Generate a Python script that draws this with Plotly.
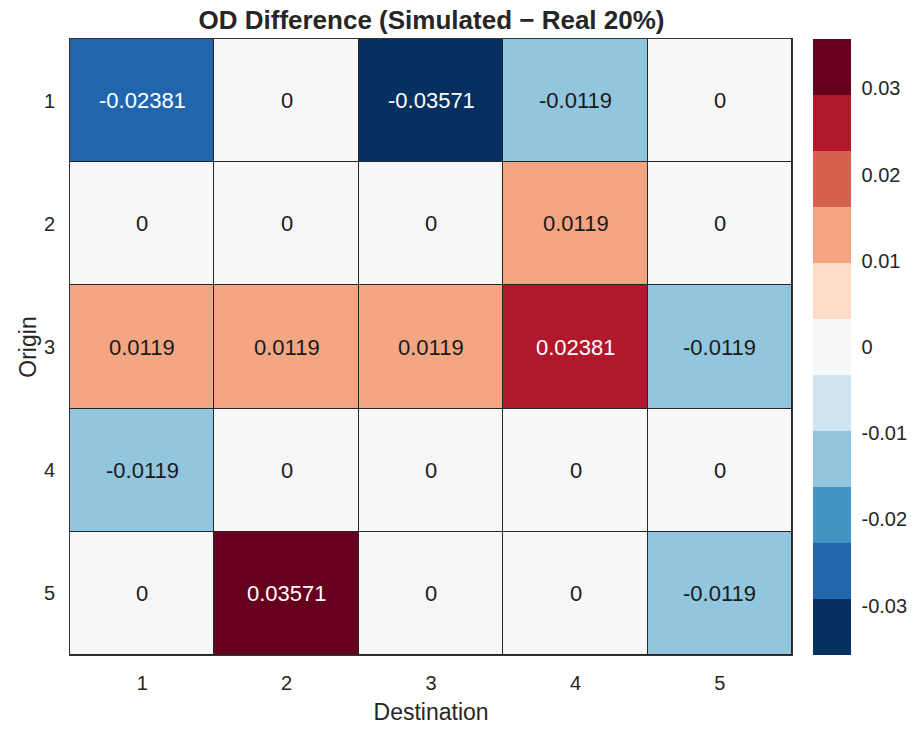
import plotly.graph_objects as go

origins = [1, 2, 3, 4, 5]
destinations = [1, 2, 3, 4, 5]
od_diff = [
    [-0.02381, 0, -0.03571, -0.0119, 0],
    [0, 0, 0, 0.0119, 0],
    [0.0119, 0.0119, 0.0119, 0.02381, -0.0119],
    [-0.0119, 0, 0, 0, 0],
    [0, 0.03571, 0, 0, -0.0119],
]
cb_ticks = [-0.03, -0.02, -0.01, 0, 0.01, 0.02, 0.03]
band_colors = ["#053061", "#2166ac", "#4393c3", "#92c5de", "#d1e5f0", "#f7f7f7",
               "#fddbc7", "#f4a582", "#d6604d", "#b2182b", "#67001f"]
zlim = 0.035714

FONT = "Liberation Sans, Arial, sans-serif"
TXT = "#262626"
L, R, T, B = 70, 793, 39, 655
W, H = 913, 734
MR = 6
PW = W - L - MR

n = len(band_colors)
colorscale = []
for i, c in enumerate(band_colors):
    colorscale.append([i / n, c])
    colorscale.append([(i + 1) / n, c])

fig = go.Figure(go.Heatmap(
    z=od_diff, x=destinations, y=origins,
    colorscale=colorscale, zmin=-zlim, zmax=zlim,
    xgap=1, ygap=1,
    colorbar=dict(
        x=(813 - L) / PW, xanchor="left", xpad=0,
        y=0, yanchor="bottom", len=1, lenmode="fraction", ypad=0,
        thickness=38, outlinewidth=0,
        tickvals=cb_ticks, ticktext=[f"{v:g}" for v in cb_ticks],
        ticks="outside", ticklen=7, tickcolor="rgba(0,0,0,0)", tickwidth=1,
        tickfont=dict(family=FONT, size=20, color=TXT),
    ),
    hoverinfo="skip",
))

dark = {"#053061", "#2166ac", "#b2182b", "#67001f"}
def band_of(v):
    k = int((v + zlim) / (2 * zlim) * n)
    return band_colors[min(max(k, 0), n - 1)]

annotations = []
for i, o in enumerate(origins):
    for j, d in enumerate(destinations):
        v = od_diff[i][j]
        annotations.append(dict(
            x=d, y=o, text=f"{v:.4g}", showarrow=False,
            font=dict(family=FONT, size=22,
                      color="white" if band_of(v) in dark else "#1a1a1a"),
        ))

fig.update_layout(
    width=W, height=H,
    margin=dict(l=L, r=MR, t=T, b=H - B),
    paper_bgcolor="white", plot_bgcolor="#262626",
    title=dict(text="<b>OD Difference (Simulated − Real 20%)</b>",
               x=(L + R) / 2 / W, xanchor="center", y=1 - 20 / H, yanchor="middle",
               font=dict(family=FONT, size=26, color=TXT)),
    annotations=annotations,
    xaxis=dict(domain=[0, (R - L) / PW],
               tickvals=destinations, ticktext=[str(v) for v in destinations],
               title=dict(text="Destination", standoff=10,
                          font=dict(family=FONT, size=23, color=TXT)),
               tickfont=dict(family=FONT, size=20, color=TXT),
               ticklabelstandoff=10,
               showline=True, linecolor="#333", linewidth=1, mirror=True,
               showgrid=False, zeroline=False, ticklen=0),
    yaxis=dict(tickvals=origins, ticktext=[str(v) for v in origins], autorange="reversed",
               title=dict(text="Origin", standoff=0,
                          font=dict(family=FONT, size=23, color=TXT)),
               tickfont=dict(family=FONT, size=20, color=TXT),
               ticklabelstandoff=10,
               showline=True, linecolor="#333", linewidth=1, mirror=True,
               showgrid=False, zeroline=False, ticklen=0),
)

fig.write_html("out.html")
